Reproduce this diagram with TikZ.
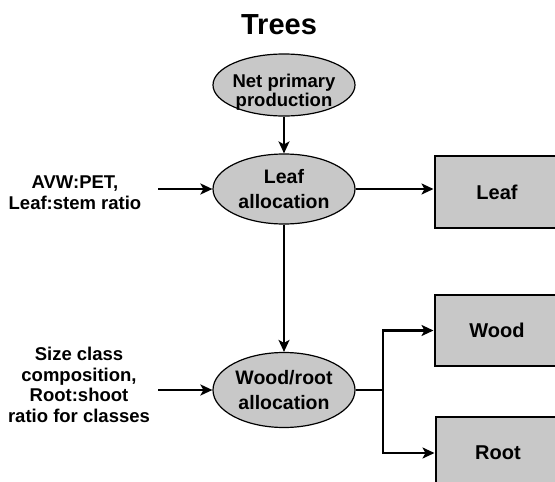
\documentclass[tikz,border=0pt]{standalone}
\usepackage{fontspec}
\setmainfont{Liberation Sans}
\usetikzlibrary{shapes.geometric,arrows.meta}
\definecolor{boxgray}{RGB}{200,200,200}
\begin{document}
\begin{tikzpicture}[x=1pt,y=-1pt,
  lbl/.style={font=\bfseries\fontsize{18.5}{20.7}\selectfont, align=center, text=black},
  process/.style={ellipse, draw=black, line width=1.2pt, fill=boxgray, inner sep=0pt, minimum width=142pt,
    font=\bfseries\fontsize{19.5}{25}\selectfont, align=center},
  pool/.style={rectangle, draw=black, line width=2pt, fill=boxgray, minimum width=125pt, minimum height=72pt,
    font=\bfseries\fontsize{20}{24}\selectfont},
  tip/.style={-{Stealth[length=12pt,width=11pt,inset=3pt]}},
  flow/.style={line width=2.6pt, tip},
  drop/.style={line width=1.8pt, tip}
]
\clip (0,0) rectangle (555,482);
\fill[white] (0,0) rectangle (555,482);

% title
\node[font=\bfseries\fontsize{29}{34}\selectfont] (title) at (279,25) {Trees};

% allocation processes
\node[process, minimum height=62pt] (npp) at (284,85) {};
\node[font=\bfseries\fontsize{18.5}{19.5}\selectfont, align=center] (npptext) at (284,92) {Net primary\\production};
\node[process, minimum height=70pt] (la) at (284,189) {Leaf\\allocation};
\node[process, minimum height=75pt] (wra) at (284,390) {Wood/root\\allocation};

% carbon pools
\node[pool] (leaf) at (497,192) {Leaf};
\node[pool, minimum height=71pt] (wood) at (497,330.5) {Wood};
\node[pool] (root) at (498,453) {Root};

% driving inputs
\node[lbl] (in1) at (75,193) {AVW:PET,\\Leaf:stem ratio};
\node[lbl] (in2) at (79,385) {Size class\\composition,\\Root:shoot\\ratio for classes};
\coordinate (s1) at (158,189);
\coordinate (s2) at (158,390);
\coordinate (split) at (383,390);

% flows
\draw[drop] (npp.south) -- (la.north);
\draw[drop] (la.south) -- (wra.north);
\draw[flow] (s1) -- (la.west);
\draw[flow] (s2) -- (wra.west);
\draw[flow] (la.east) -- (la.east -| leaf.west);
\draw[flow] (wra.east) -- (split) |- (wood.west);
\draw[flow] (split) |- (root.west);
\end{tikzpicture}
\end{document}
